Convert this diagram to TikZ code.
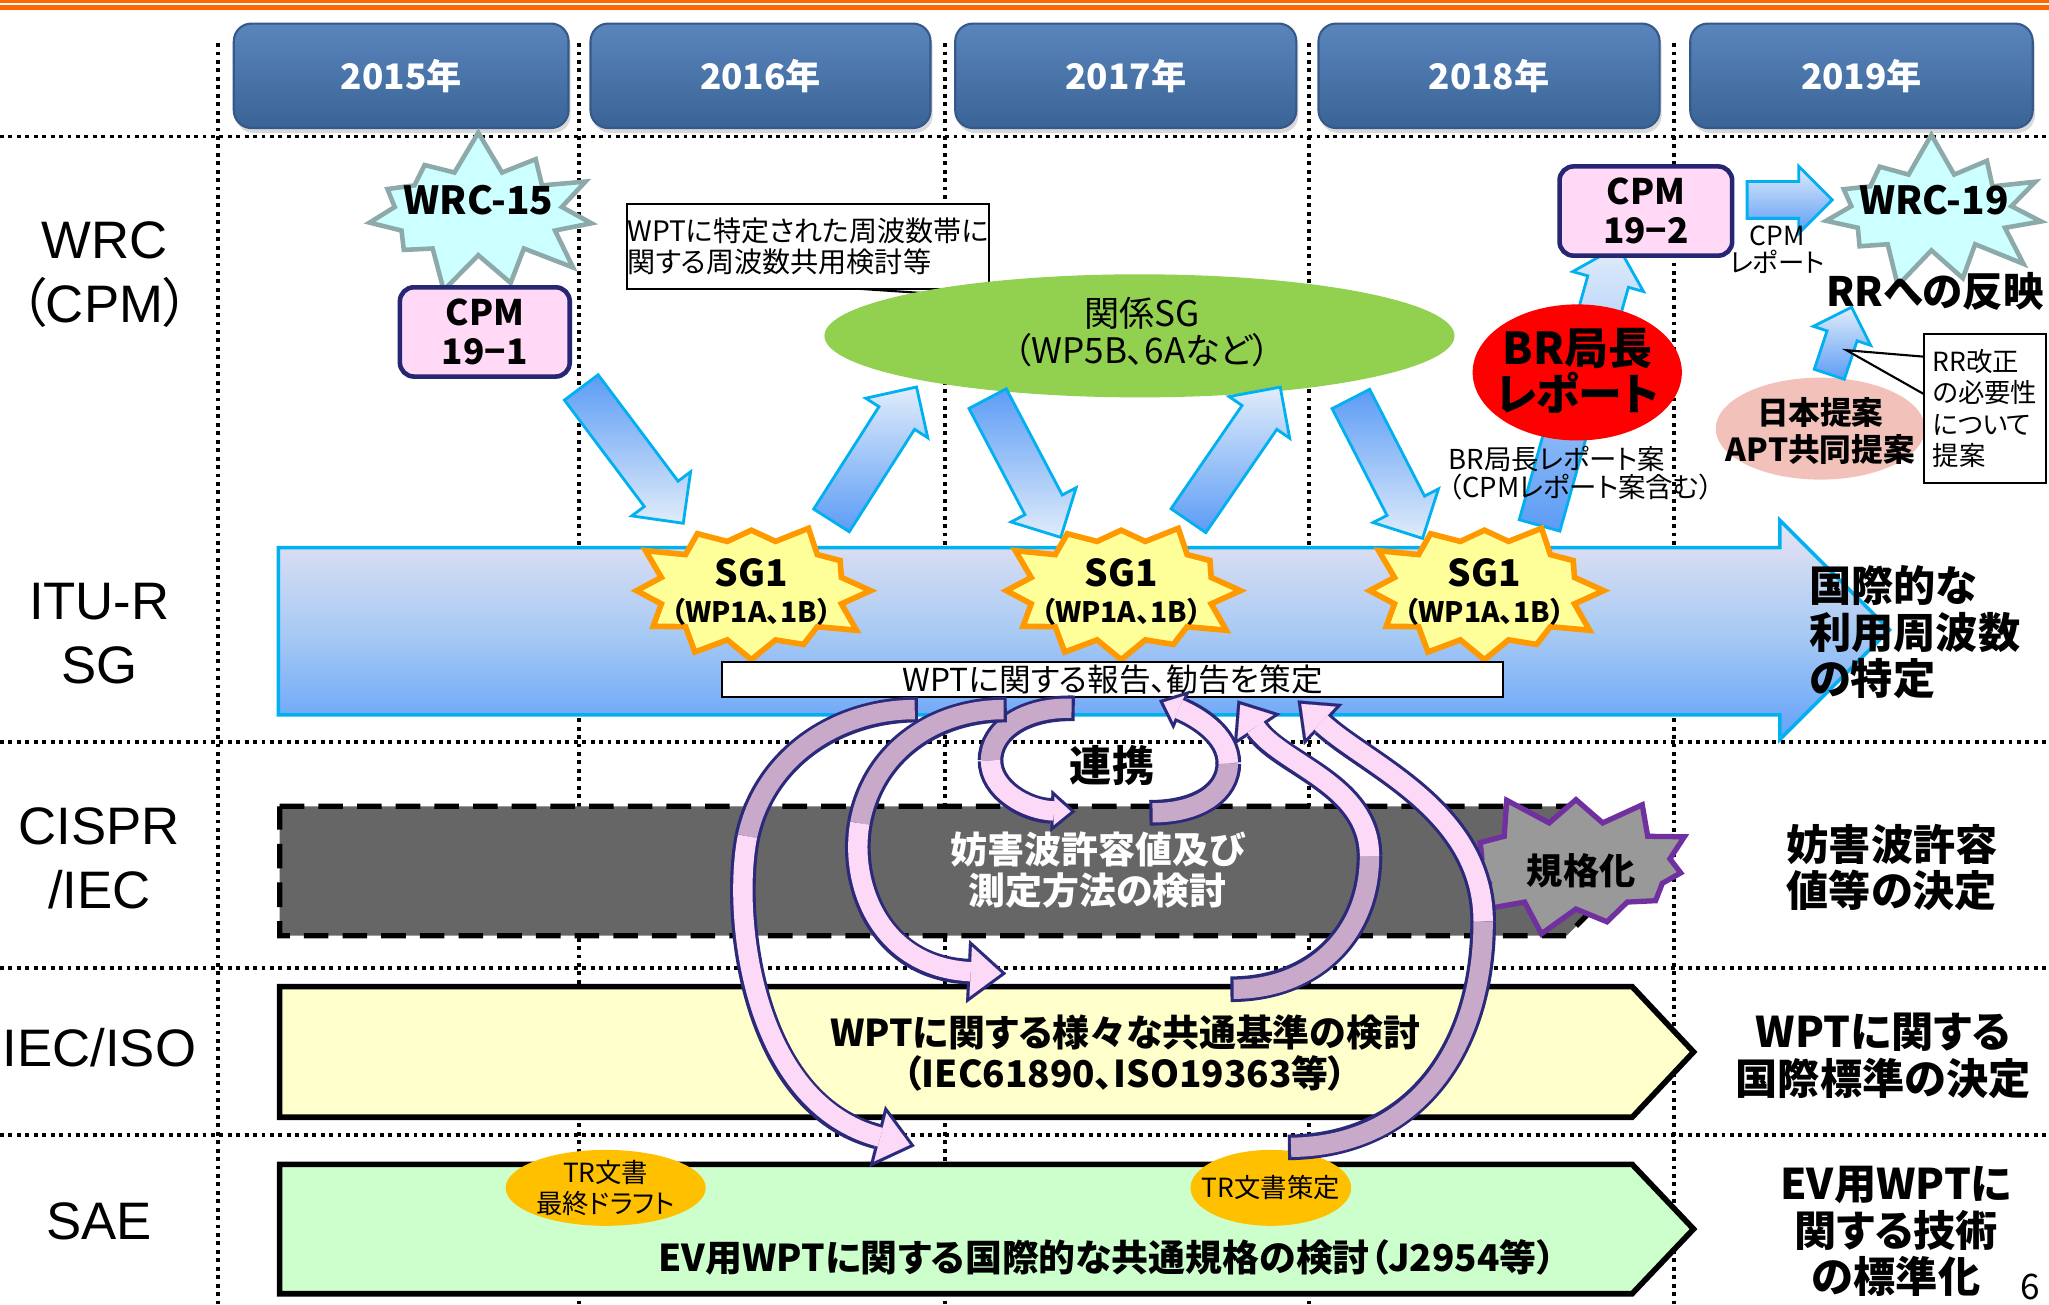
\documentclass[tikz,border=0pt]{standalone}
\usepackage{fontspec}
\setmainfont{Noto Sans CJK JP}[RawFeature=+palt]
\newfontfamily\latinSans{Liberation Sans}
\usetikzlibrary{shapes.geometric,shapes.symbols,shapes.arrows,arrows.meta,shadows}
\newcommand{\loopArrow}[3]{%
  \draw[bandEdge, shorten <=-0.9pt] #1;
  \draw[bandEdge, #3TipEdge] #2;
  \draw[bandBack] #1;
  \draw[bandFront, #3TipFront] #2;}
\definecolor{orangeLine}{HTML}{FF6600}
\definecolor{yearTop}{HTML}{5A85BC}
\definecolor{yearBottom}{HTML}{3A6496}
\definecolor{yearEdge}{HTML}{35598A}
\definecolor{wrcFill}{HTML}{CCFFFF}
\definecolor{wrcEdge}{HTML}{8EA9A9}
\definecolor{cpmFill}{HTML}{FFD9F5}
\definecolor{cpmEdge}{HTML}{262673}
\definecolor{sgGreen}{HTML}{92D050}
\definecolor{arrowCyan}{HTML}{00B0F0}
\definecolor{arrowLight}{HTML}{E0ECFA}
\definecolor{arrowBlue}{HTML}{5C9CF5}
\definecolor{jpFill}{HTML}{F2C2BA}
\definecolor{ituTop}{HTML}{E8E3F3}
\definecolor{ituMid}{HTML}{A9CBF3}
\definecolor{ituBottom}{HTML}{63A1FA}
\definecolor{sgOneFill}{HTML}{FFFF99}
\definecolor{sgOneEdge}{HTML}{FF9900}
\definecolor{cisprGray}{HTML}{666666}
\definecolor{kikakuFill}{HTML}{999999}
\definecolor{kikakuEdge}{HTML}{7030A0}
\definecolor{iecFill}{HTML}{FFFFCC}
\definecolor{saeFill}{HTML}{CCFFCC}
\definecolor{trFill}{HTML}{FFC000}
\definecolor{bandNavy}{HTML}{2B2A7A}
\definecolor{bandPink}{HTML}{FCD9F7}
\definecolor{bandMauve}{HTML}{C9A9C9}

\begin{document}
\begin{tikzpicture}[x=0.013068cm, y=-0.013068cm]
  \tikzset{
    gridLine/.style={line width=1.1pt, dash pattern=on 1.1pt off 1.3pt},
    yearBox/.style={rounded corners=5pt, minimum height=29.7pt, top color=yearTop, bottom color=yearBottom,
      draw=yearEdge, line width=0.6pt, text=white, font=\fontsize{10}{12}\selectfont\bfseries,
      drop shadow={shadow xshift=0.6pt, shadow yshift=-1.4pt, opacity=0.3}},
    rowLabel/.style={align=center, inner sep=0pt, font=\latinSans\fontsize{15}{18.2}\selectfont},
    wrcStar/.style={starburst, starburst points=11, starburst point height=12pt, random starburst=7,
      fill=wrcFill, draw=wrcEdge, line width=1.3pt, inner sep=0pt},
    sgStar/.style={starburst, starburst points=12, starburst point height=8.5pt, random starburst=3,
      fill=sgOneFill, draw=sgOneEdge, line width=1.6pt, inner sep=0pt, minimum width=70pt,
      minimum height=46pt},
    starText/.style={inner sep=0pt, align=center, font=\fontsize{10.5}{10.5}\selectfont\bfseries},
    cpmBox/.style={rounded corners=4pt, fill=cpmFill, draw=cpmEdge, line width=1.3pt, align=center,
      font=\fontsize{10}{11}\selectfont\bfseries},
    blueArrow/.style={single arrow, draw=arrowCyan, line width=0.8pt, inner xsep=0pt, inner ysep=5.6pt,
      single arrow head extend=4.46pt},
    shadeUp/.style={top color=arrowLight, bottom color=arrowBlue},
    shadeDown/.style={top color=arrowBlue, bottom color=arrowLight},
    ituBar/.style={draw=arrowCyan, line width=1pt, top color=ituTop, bottom color=ituBottom, middle color=ituMid},
    cisprBar/.style={fill=cisprGray, draw=black, line width=1.5pt, dash pattern=on 7pt off 4pt},
    iecBar/.style={fill=iecFill, draw=black, line width=1.6pt},
    saeBar/.style={fill=saeFill, draw=black, line width=1.6pt},
    barText/.style={align=center, font=\fontsize{10.5}{11.8}\selectfont\bfseries},
    rightNote/.style={inner sep=0pt, font=\fontsize{12}{13.2}\selectfont\bfseries},
    smallNote/.style={inner sep=0pt, align=left, font=\fontsize{7.8}{7.8}\selectfont},
    calloutBox/.style={draw=black, fill=white, line width=0.6pt, inner sep=0pt},
    plainOval/.style={ellipse, inner sep=0pt},
    ovalText/.style={inner sep=0pt, align=center},
    bandEdge/.style={draw=bandNavy, line width=7.3pt},
    bandBack/.style={draw=bandMauve, line width=5.5pt},
    bandFront/.style={draw=bandPink, line width=5.5pt},
    bigTipEdge/.style={-{Triangle[length=11pt,width=18pt,line width=0.01pt]}},
    bigTipFront/.style={shorten >=1.42pt, -{Triangle[length=8.68pt,width=14.2pt,line width=0.01pt]}},
    midTipEdge/.style={-{Triangle[length=10pt,width=16pt,line width=0.01pt]}},
    midTipFront/.style={shorten >=1.44pt, -{Triangle[length=7.66pt,width=12.25pt,line width=0.01pt]}},
    smallTipEdge/.style={-{Triangle[length=7pt,width=12pt,line width=0.01pt]}},
    smallTipFront/.style={shorten >=1.38pt, -{Triangle[length=4.72pt,width=8.1pt,line width=0.01pt]}}
  }
  \useasboundingbox (0,0) rectangle (1568,998);

  \fill[orangeLine] (0,0) rectangle (1568,2);
  \fill[orangeLine] (0,3.8) rectangle (1568,7.7);

  \foreach \xLine in {167,443,723,1002,1281}
    \draw[gridLine] (\xLine,33) -- (\xLine,998);
  \foreach \yLine in {104.5,567.5,740.5,868.5}
    \draw[gridLine] (0,\yLine) -- (1568,\yLine);

  \node[yearBox, minimum width=95.2pt] (y2015) at (307,58) {2015年};
  \node[yearBox, minimum width=96.7pt] (y2016) at (582,58) {2016年};
  \node[yearBox, minimum width=97pt] (y2017) at (861.5,58) {2017年};
  \node[yearBox, minimum width=97pt] (y2018) at (1139.5,58) {2018年};
  \node[yearBox, minimum width=97.4pt] (y2019) at (1424.5,58) {2019年};

  \node[rowLabel] (rowWrc) at (80,210) {WRC\\{\rmfamily （}CPM{\rmfamily ）}};
  \node[rowLabel] (rowItu) at (76,485) {ITU-R\\SG};
  \node[rowLabel] (rowCispr) at (76,657) {CISPR\\/IEC};
  \node[rowLabel] (rowIec) at (76,802) {IEC/ISO};
  \node[rowLabel] (rowSae) at (76,935) {SAE};

  \draw[ituBar] (213,419) -- (1362,419) -- (1362,398) -- (1446,482) -- (1362,566) -- (1362,547) -- (213,547) -- cycle;
  \draw[cisprBar] (214,617) -- (1199,617) -- (1248,666) -- (1199,716) -- (214,716) -- cycle;
  \draw[iecBar] (214,755) -- (1249,755) -- (1296,805) -- (1249,855) -- (214,855) -- cycle;
  \draw[saeBar] (214,891) -- (1249,891) -- (1296,940.5) -- (1249,990) -- (214,990) -- cycle;

  \node[barText, text=white] (cisprText) at (840,666) {妨害波許容値及び\\測定方法の検討};
  \node[barText] (iecText) at (861,806) {WPTに関する様々な共通基準の検討\\（IEC61890、ISO19363等）};
  \node[barText] (saeText) at (847,962) {EV用WPTに関する国際的な共通規格の検討（J2954等）};
  \node[plainOval, fill=trFill, minimum width=56.9pt, minimum height=21.6pt] (trDraft) at (463.5,909) {};
  \node[ovalText, font=\fontsize{7.5}{9}\selectfont] (trDraftText) at (trDraft) {TR文書\\最終ドラフト};
  \node[plainOval, fill=trFill, minimum width=45.7pt, minimum height=21.6pt] (trFixed) at (972.5,909) {};
  \node[ovalText, font=\fontsize{7.5}{9}\selectfont] (trFixedText) at (trFixed) {TR文書策定};

  \draw[calloutBox] (642,220) -- (778,229) -- (710,220);
  \node[calloutBox, align=left, minimum width=103pt, minimum height=24.2pt,
    font=\fontsize{8}{9}\selectfont] (noteWpt) at (618.5,188.5) {WPTに特定された周波数帯に\\関する周波数共用検討等};
  \node[plainOval, fill=sgGreen, minimum width=179.2pt, minimum height=35pt] (relSg) at (872,257) {};
  \node[ovalText, font=\fontsize{10}{9.3}\selectfont] (relSgText) at (874,254) {関係SG\\（WP5B、6Aなど）};

  \node[wrcStar, minimum width=72pt, minimum height=48pt] (wrc15) at (366,163) {};
  \node[starText, font=\fontsize{11}{13}\selectfont\bfseries] (wrc15Text) at (366,153) {WRC-15};
  \node[cpmBox, minimum width=48.3pt, minimum height=24.9pt] (cpm191) at (371,254) {CPM\\19−1};

  \node[blueArrow, shadeDown, rotate=-53.1, minimum height=48.3pt] (toSgA) at (479,342) {};
  \node[blueArrow, shadeUp, rotate=57.5, minimum height=45pt] (fromSgA) at (664.5,354) {};
  \node[blueArrow, shadeDown, rotate=-62.2, minimum height=44.6pt] (toSgB) at (780,351) {};
  \node[blueArrow, shadeUp, rotate=55.5, minimum height=46.1pt] (fromSgB) at (940,354) {};
  \node[blueArrow, shadeDown, rotate=-62.8, minimum height=44.6pt] (toSgC) at (1057.5,351.5) {};
  \node[blueArrow, shadeUp, rotate=74.3, minimum height=82.5pt] (toCpm192) at (1206,303) {};

  \foreach \sgName/\sgX in {sgA/575, sgB/858, sgC/1136} {
    \node[sgStar] (\sgName) at (\sgX,452) {};
    \node[starText] (\sgName Text) at (\sgX,453) {SG1\\{\fontsize{8}{9}\selectfont （WP1A、1B）}};
  }
  \node[calloutBox, minimum width=222pt, minimum height=10pt,
    font=\fontsize{9}{10}\selectfont] (wptReport) at (851.5,520) {WPTに関する報告、勧告を策定};

  \node[plainOval, fill=red, minimum width=59.5pt, minimum height=38.7pt] (brReport) at (1207,285) {};
  \node[ovalText, font=\fontsize{12.5}{13}\selectfont\bfseries] (brReportText) at (1207,284) {BR局長\\レポート};
  \node[smallNote, anchor=west] (brDraft) at (1108,362) {BR局長レポート案\\（CPMレポート案含む）};

  \node[cpmBox, minimum width=49.1pt, minimum height=25.3pt] (cpm192) at (1259.5,161.5) {CPM\\19−2};
  \node[blueArrow, shadeUp, minimum height=24.2pt, inner ysep=4.85pt,
    single arrow head extend=4.28pt] (toWrc19) at (1362.5,153) {};
  \node[wrcStar, minimum width=70pt, minimum height=46pt] (wrc19) at (1478,162) {};
  \node[starText, font=\fontsize{11}{13}\selectfont\bfseries] (wrc19Text) at (1480,153) {WRC-19};
  \node[smallNote, align=center, font=\fontsize{7.5}{7.5}\selectfont] (cpmReport) at (1360,191) {CPM\\レポート};
  \node[rightNote, anchor=west, font=\fontsize{11.5}{13}\selectfont\bfseries] (rrReflect) at (1397,223) {RRへの反映};

  \node[plainOval, fill=jpFill, minimum width=59.5pt, minimum height=29pt] (jpProposal) at (1393,328) {};
  \node[ovalText, font=\fontsize{9}{10.4}\selectfont\bfseries] (jpProposalText) at (1393,330) {日本提案\\APT共同提案};
  \node[blueArrow, shadeUp, rotate=71.6, minimum height=20.1pt, inner ysep=4.1pt,
    single arrow head extend=4.09pt] (toRr) at (1406.5,266.5) {};
  \draw[calloutBox] (1473,273) -- (1413,268) -- (1473,302);
  \node[calloutBox, align=left, minimum width=34.6pt, minimum height=42.4pt,
    font=\fontsize{7.5}{8.9}\selectfont] (rrNote) at (1519,312.5) {RR改正\\の必要性\\について\\提案};

  \node[rightNote, align=left, anchor=west] (freqNote) at (1384,484) {国際的な\\利用周波数\\の特定};
  \node[starburst, starburst points=11, starburst point height=10pt, random starburst=5,
    fill=kikakuFill, draw=kikakuEdge, line width=1.5pt, inner sep=0pt, minimum width=74pt,
    minimum height=45pt] (kikaku) at (1206,662) {};
  \node[starText, font=\fontsize{10.3}{12}\selectfont\bfseries] (kikakuText) at (1210,666) {規格化};
  \node[rightNote, align=left] (emiNote) at (1448,664) {妨害波許容\\値等の決定};
  \node[rightNote, align=center] (stdNote) at (1441,808) {WPTに関する\\国際標準の決定};
  \node[rightNote, align=center] (evNote) at (1451,942.5) {EV用WPTに\\関する技術\\の標準化};
  \node[font=\fontsize{10}{12}\selectfont] (pageNo) at (1554,985) {6};

  \node[font=\fontsize{12}{14}\selectfont\bfseries] (renkei) at (851,586) {連携};

  \coordinate (loopAtail) at (700,543);
  \coordinate (loopAmid) at (572,640);
  \coordinate (loopAhead) at (700,877);
  \coordinate (loopBtail) at (768,543);
  \coordinate (loopBmid) at (658,630);
  \coordinate (loopBhead) at (770,745);
  \coordinate (loopCtail) at (820,542);
  \coordinate (loopCmid) at (758,582);
  \coordinate (loopChead) at (823,621);
  \coordinate (loopDtail) at (882,622);
  \coordinate (loopDmid) at (940,584);
  \coordinate (loopDhead) at (887,536);
  \coordinate (loopEtail) at (944,757);
  \coordinate (loopEmid) at (1048,655);
  \coordinate (loopEhead) at (947,536);
  \coordinate (loopFtail) at (988,878);
  \coordinate (loopFmid) at (1135,705);
  \coordinate (loopFhead) at (993,536);

  \loopArrow{(loopFtail) .. controls (1085,877) and (1135,800) .. (loopFmid)}
    {(loopFmid) .. controls (1135,620) and (1045,585) .. (loopFhead)}{mid}
  \loopArrow{(loopEtail) .. controls (1005,757) and (1048,715) .. (loopEmid)}
    {(loopEmid) .. controls (1048,600) and (980,585) .. (loopEhead)}{mid}
  \loopArrow{(loopDtail) .. controls (918,622) and (940,606) .. (loopDmid)}
    {(loopDmid) .. controls (940,562) and (915,548) .. (loopDhead)}{small}
  \loopArrow{(loopCtail) .. controls (785,541) and (758,558) .. (loopCmid)}
    {(loopCmid) .. controls (758,604) and (785,620) .. (loopChead)}{small}
  \loopArrow{(loopBtail) .. controls (715,543) and (668,575) .. (loopBmid)}
    {(loopBmid) .. controls (650,675) and (672,740) .. (loopBhead)}{big}
  \loopArrow{(loopAtail) .. controls (640,543) and (585,580) .. (loopAmid)}
    {(loopAmid) .. controls (560,700) and (575,845) .. (loopAhead)}{big}
\end{tikzpicture}
\end{document}
